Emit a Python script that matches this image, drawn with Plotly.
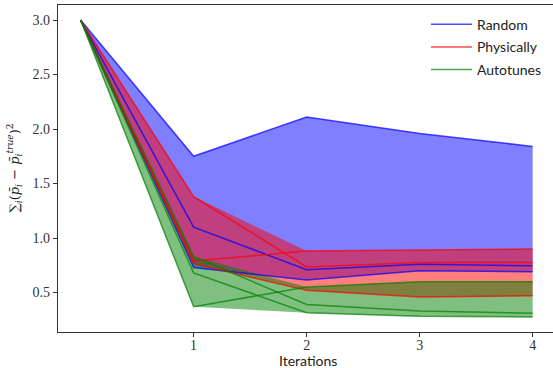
import plotly.graph_objects as go

iterations = [0, 1, 2, 3, 4]

random_runs = [
    [3.0, 1.75, 2.11, 1.96, 1.84],
    [3.0, 1.10, 0.71, 0.76, 0.745],
    [3.0, 0.73, 0.615, 0.70, 0.69],
]
physically_runs = [
    [3.0, 1.38, 0.735, 0.775, 0.775],
    [3.0, 0.79, 0.88, 0.89, 0.90],
    [3.0, 0.765, 0.52, 0.46, 0.47],
]
autotunes_runs = [
    [3.0, 0.83, 0.39, 0.33, 0.31],
    [3.0, 0.68, 0.315, 0.282, 0.276],
    [3.0, 0.37, 0.55, 0.60, 0.60],
]

methods = ["Random", "Physically", "Autotunes"]
line_colors = ["rgb(0,0,255)", "rgb(255,0,0)", "rgb(0,128,0)"]
fill_colors = ["rgba(0,0,255,0.5)", "rgba(255,0,0,0.5)", "rgba(0,128,0,0.5)"]
all_runs = [random_runs, physically_runs, autotunes_runs]

y_ticks = [0.5, 1.0, 1.5, 2.0, 2.5, 3.0]
x_ticks = [1, 2, 3, 4]

fig = go.Figure()

# shaded min-max bands
for name, fc, runs in zip(methods, fill_colors, all_runs):
    lo = [min(v) for v in zip(*runs)]
    hi = [max(v) for v in zip(*runs)]
    fig.add_trace(go.Scatter(x=iterations, y=lo, mode="lines", line=dict(width=0),
                             showlegend=False, hoverinfo="skip"))
    fig.add_trace(go.Scatter(x=iterations, y=hi, mode="lines", line=dict(width=0),
                             fill="tonexty", fillcolor=fc, showlegend=False, hoverinfo="skip"))

# individual runs
for name, lc, runs in zip(methods, line_colors, all_runs):
    for i, r in enumerate(runs):
        fig.add_trace(go.Scatter(x=iterations, y=r, mode="lines",
                                 line=dict(color=lc, width=1.5), opacity=0.7,
                                 name=name, legendgroup=name, showlegend=(i == 0)))

axis_line = dict(showline=True, linecolor="#333333", linewidth=1.2, ticks="outside",
                 ticklen=4, tickcolor="#333333", showgrid=False, zeroline=False,
                 automargin=False,
                 tickfont=dict(family="Liberation Serif", size=14, color="#333333"))

fig.update_xaxes(range=[-0.2, 4.18], tickvals=x_ticks, mirror=True,
                 ticklabelstandoff=-4, **axis_line)
fig.update_yaxes(range=[0.138, 3.138], tickvals=y_ticks, tickformat=".1f", **axis_line)

fig.add_annotation(text="Iterations", xref="paper", yref="paper", x=0.5, y=0,
                   xanchor="center", yanchor="middle", xshift=2, yshift=-28,
                   showarrow=False, font=dict(family="Lato", size=14, color="#222"))
fig.add_annotation(text="∑<sub><i>i</i></sub>(<i>p̄</i><sub><i>i</i></sub> − <i>p̄</i><sub><i>i</i></sub><sup><i>true</i></sup>)<sup>2</sup>",
                   xref="paper", yref="paper", x=0, y=0.5, xanchor="center", yanchor="middle",
                   xshift=-44, textangle=-90, showarrow=False,
                   font=dict(family="DejaVu Serif", size=13, color="#222"))

fig.update_layout(
    width=553, height=368,
    margin=dict(l=58, r=0, t=5, b=36),
    paper_bgcolor="white", plot_bgcolor="white",
    legend=dict(x=0.7434, y=0.989, xanchor="left", yanchor="top",
                bgcolor="rgba(0,0,0,0)", font=dict(family="Lato", size=14, color="#222"),
                tracegroupgap=1.5, itemwidth=41),
)

fig.write_html("out.html", config={"displayModeBar": False},
               post_script="document.body.style.margin='0px';document.body.style.overflow='hidden';")
